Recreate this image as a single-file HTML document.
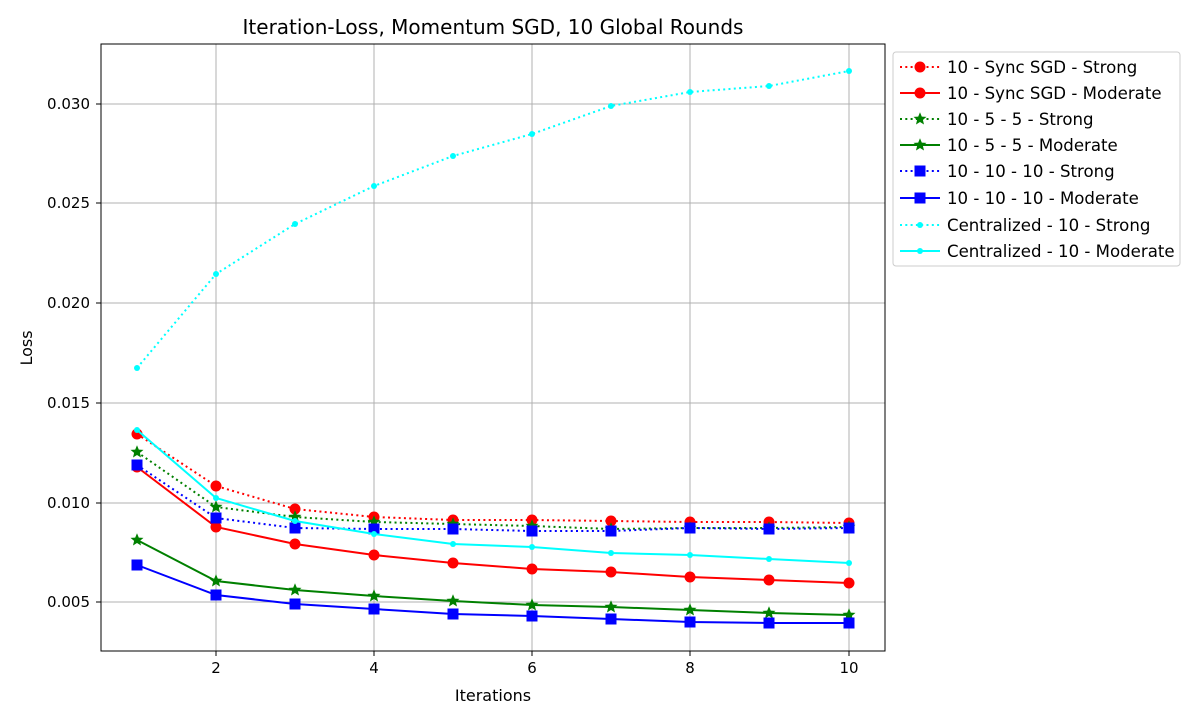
<!DOCTYPE html>
<html><head><meta charset="utf-8"><style>body{margin:0;background:#fff}svg{font-family:"DejaVu Sans","Liberation Sans",sans-serif}</style></head>
<body>
<svg id="s" width="1200" height="720" xmlns="http://www.w3.org/2000/svg">
<rect width="1200" height="720" fill="#fff"/>
<g stroke="#b0b0b0" stroke-width="1">
<line x1="216" y1="44" x2="216" y2="651"/><line x1="374" y1="44" x2="374" y2="651"/><line x1="532" y1="44" x2="532" y2="651"/><line x1="690" y1="44" x2="690" y2="651"/><line x1="849" y1="44" x2="849" y2="651"/>
<line x1="101" y1="104" x2="885" y2="104"/><line x1="101" y1="203" x2="885" y2="203"/><line x1="101" y1="303" x2="885" y2="303"/><line x1="101" y1="403" x2="885" y2="403"/><line x1="101" y1="503" x2="885" y2="503"/><line x1="101" y1="602" x2="885" y2="602"/>
</g>
<g id="data"></g>
<rect x="101" y="44" width="784" height="607" fill="none" stroke="#000" stroke-width="1"/>
<g stroke="#000"><line x1="216" y1="651" x2="216" y2="656"/><line x1="374" y1="651" x2="374" y2="656"/><line x1="532" y1="651" x2="532" y2="656"/><line x1="690" y1="651" x2="690" y2="656"/><line x1="849" y1="651" x2="849" y2="656"/>
<line x1="96" y1="104" x2="101" y2="104"/><line x1="96" y1="203" x2="101" y2="203"/><line x1="96" y1="303" x2="101" y2="303"/><line x1="96" y1="403" x2="101" y2="403"/><line x1="96" y1="503" x2="101" y2="503"/><line x1="96" y1="602" x2="101" y2="602"/></g>
<g font-size="15" text-anchor="middle"><text x="216" y="673">2</text><text x="374" y="673">4</text><text x="532" y="673">6</text><text x="690" y="673">8</text><text x="849" y="673">10</text></g>
<g font-size="15" text-anchor="end"><text x="90" y="109">0.030</text><text x="90" y="208">0.025</text><text x="90" y="308">0.020</text><text x="90" y="408">0.015</text><text x="90" y="508">0.010</text><text x="90" y="607">0.005</text></g>
<text x="493" y="701" font-size="16" text-anchor="middle">Iterations</text>
<text x="32" y="348" font-size="16" text-anchor="middle" transform="rotate(-90 32 348)">Loss</text>
<text x="493" y="34" font-size="20" text-anchor="middle">Iteration-Loss, Momentum SGD, 10 Global Rounds</text>
<rect x="893" y="52" width="287" height="214" rx="3" fill="#fff" stroke="#ccc"/>
<g id="leg"></g>
<g font-size="16.6">
<text x="947" y="73">10 - Sync SGD - Strong</text><text x="947" y="99">10 - Sync SGD - Moderate</text><text x="947" y="125">10 - 5 - 5 - Strong</text><text x="947" y="151">10 - 5 - 5 - Moderate</text><text x="947" y="177">10 - 10 - 10 - Strong</text><text x="947" y="204">10 - 10 - 10 - Moderate</text><text x="947" y="231">Centralized - 10 - Strong</text><text x="947" y="257">Centralized - 10 - Moderate</text>
</g>
</svg>
<script>
var X=[137,216,295,374,453,532,611,690,769,849];
var S=[
["red",1,"o",[434,486,509,517,520,520,521,522,522,523]],
["red",0,"o",[467,527,544,555,563,569,572,577,580,583]],
["green",1,"*",[452,507,517,522,524,526,529,528,528,527]],
["green",0,"*",[540,581,590,596,601,605,607,610,613,615]],
["blue",1,"s",[465,518,528,529,529,531,531,528,529,528]],
["blue",0,"s",[565,595,604,609,614,616,619,622,623,623]],
["cyan",1,".",[368,274,224,186,156,134,106,92,86,71]],
["cyan",0,".",[430,498,521,534,544,547,553,555,559,563]]];
function mk(t,x,y,c){
 if(t=="o")return '<circle cx="'+x+'" cy="'+y+'" r="5.5" fill="'+c+'"/>';
 if(t==".")return '<circle cx="'+x+'" cy="'+y+'" r="3" fill="'+c+'"/>';
 if(t=="s")return '<rect x="'+(x-5.5)+'" y="'+(y-5.5)+'" width="11" height="11" fill="'+c+'"/>';
 var p=[];for(var i=0;i<10;i++){var r=i%2?3:6.8,a=Math.PI/5*i-Math.PI/2;p.push((x+r*Math.cos(a)).toFixed(1)+","+(y+r*Math.sin(a)).toFixed(1));}
 return '<polygon points="'+p.join(" ")+'" fill="'+c+'"/>';}
var h="",l="";
S.forEach(function(s,k){
 var d=s[1]?' stroke-dasharray="2,3.3"':'';
 h+='<polyline fill="none" stroke="'+s[0]+'" stroke-width="2"'+d+' points="'+X.map(function(x,i){return x+","+s[3][i]}).join(" ")+'"/>';
 X.forEach(function(x,i){h+=mk(s[2],x,s[3][i],s[0]);});
 var ly=[67,93,119,145,171,198,225,251][k];
 l+='<line x1="900" y1="'+ly+'" x2="940" y2="'+ly+'" stroke="'+s[0]+'" stroke-width="2"'+d+'/>'+mk(s[2],920,ly,s[0]);
});
document.getElementById("data").innerHTML=h;document.getElementById("leg").innerHTML=l;
</script>
</body></html>
